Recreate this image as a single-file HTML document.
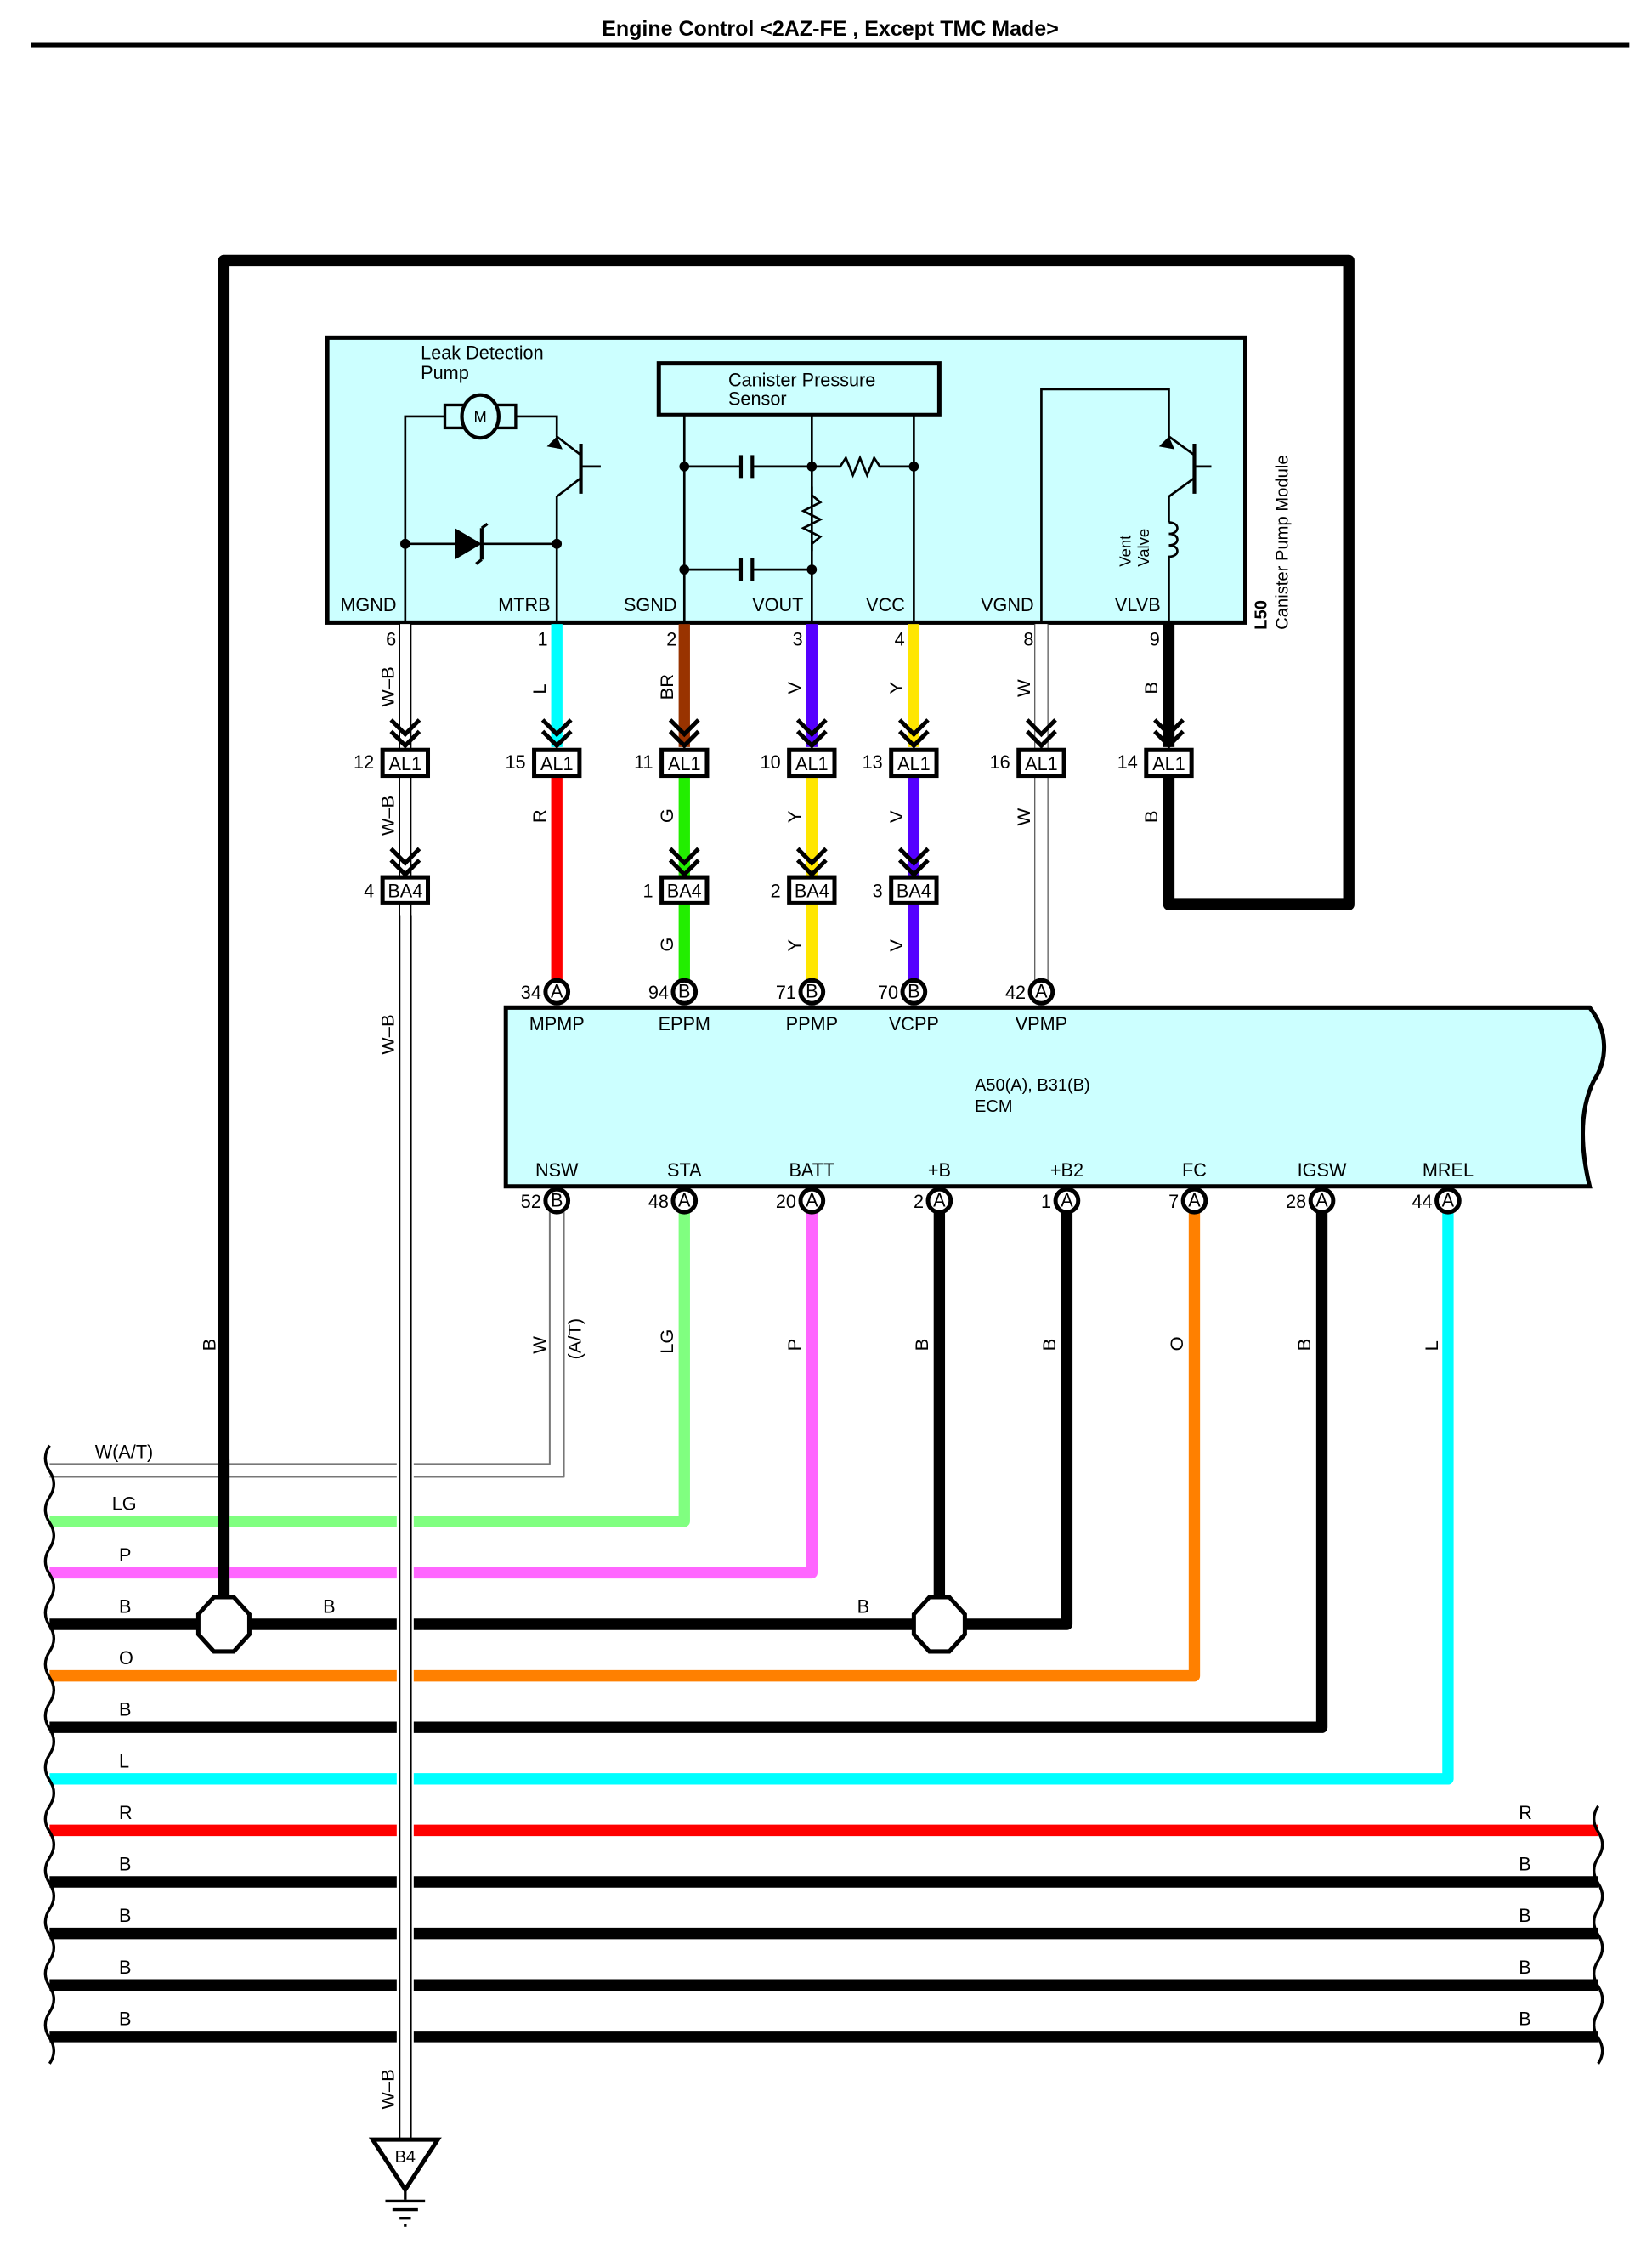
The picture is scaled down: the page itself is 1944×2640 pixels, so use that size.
<!DOCTYPE html>
<html><head><meta charset="utf-8"><style>
html,body{margin:0;padding:0;background:#fff}
svg{display:block}
text{font-family:"Liberation Sans Narrow","Liberation Sans",sans-serif;font-size:13px;fill:#000}
.n{font-size:12px}
</style></head><body>
<svg width="1944" height="2640" viewBox="0 0 1166 1568" preserveAspectRatio="none" xmlns="http://www.w3.org/2000/svg">
<text x="586" y="25" text-anchor="middle" style="font-family:'Liberation Sans',sans-serif;font-weight:bold;font-size:15px">Engine Control &lt;2AZ-FE , Except TMC Made&gt;</text>
<rect x="22" y="30" width="1128" height="3" fill="#000"/>

<!-- outer frame wire -->
<polyline points="158,1135 158,182 952,182 952,632 825,632 825,540" fill="none" stroke="#000" stroke-width="8" stroke-linejoin="round"/>

<!-- module box -->
<rect x="231" y="236" width="648" height="199" fill="#ccffff" stroke="#000" stroke-width="3"/>
<g fill="none" stroke="#000" stroke-width="1.6">
<polyline points="286,435 286,291 316,291"/>
<polyline points="362,291 393,291 393,305 410,318"/>
<polyline points="410,334 393,347 393,435"/>
<line x1="410" y1="310" x2="410" y2="345" stroke-width="2.5"/>
<line x1="410" y1="326" x2="424" y2="326"/>
<line x1="286" y1="380" x2="393" y2="380"/>
<rect x="465" y="254" width="198" height="36" stroke-width="3"/>
<line x1="483" y1="290" x2="483" y2="435"/>
<line x1="573" y1="290" x2="573" y2="435"/>
<line x1="645" y1="290" x2="645" y2="435"/>
<line x1="483" y1="326" x2="523" y2="326"/><line x1="531" y1="326" x2="573" y2="326"/>
<line x1="523" y1="318" x2="523" y2="334" stroke-width="2.5"/><line x1="531" y1="318" x2="531" y2="334" stroke-width="2.5"/>
<line x1="483" y1="398" x2="523" y2="398"/><line x1="531" y1="398" x2="573" y2="398"/>
<line x1="523" y1="390" x2="523" y2="406" stroke-width="2.5"/><line x1="531" y1="390" x2="531" y2="406" stroke-width="2.5"/>
<polyline points="573,326 593,326 597,320 602,332 607,320 612,332 617,320 621,326 645,326"/>
<polyline points="573,340 573,346 579,351 567,357 579,363 567,369 579,375 573,380 573,385"/>
<polyline points="735,435 735,272 825,272 825,305 843,318"/>
<polyline points="843,334 825,347 825,365"/>
<line x1="843" y1="310" x2="843" y2="345" stroke-width="2.5"/>
<line x1="843" y1="326" x2="855" y2="326"/>
<path d="M825,365 c8,0 8,8 0,8 c8,0 8,8 0,8 c8,0 8,8 0,8 L825,435"/>
</g>
<g fill="#000">
<circle cx="286" cy="380" r="3.5"/><circle cx="393" cy="380" r="3.5"/>
<circle cx="483" cy="326" r="3.5"/><circle cx="573" cy="326" r="3.5"/><circle cx="645" cy="326" r="3.5"/>
<circle cx="483" cy="398" r="3.5"/><circle cx="573" cy="398" r="3.5"/>
<polygon points="321,369 321,391 340,380"/>
<polygon points="393,305 386,312 397,314"/>
<polygon points="825,305 818,312 829,314"/>
</g>
<line x1="340" y1="369" x2="340" y2="391" stroke="#000" stroke-width="2.5"/>
<line x1="340" y1="369" x2="344" y2="366" stroke="#000" stroke-width="2"/>
<line x1="340" y1="391" x2="336" y2="394" stroke="#000" stroke-width="2"/>
<rect x="314" y="283" width="50" height="16" fill="#ccffff" stroke="#000" stroke-width="2"/>
<ellipse cx="339" cy="291" rx="13" ry="15" fill="#ccffff" stroke="#000" stroke-width="2.5"/>
<text x="339" y="295" text-anchor="middle" style="font-size:11px">M</text>
<text x="297" y="251">Leak Detection</text><text x="297" y="265">Pump</text>
<text x="514" y="270">Canister Pressure</text><text x="514" y="283">Sensor</text>
<text transform="translate(798,396) rotate(-90)" style="font-family:'Liberation Sans',sans-serif;font-size:11px">Vent</text>
<text transform="translate(811,396) rotate(-90)" style="font-family:'Liberation Sans',sans-serif;font-size:11px">Valve</text>
<text transform="translate(894,440) rotate(-90)" style="font-family:'Liberation Sans',sans-serif;font-size:12px;font-weight:bold">L50</text>
<text transform="translate(909,440) rotate(-90)" style="font-family:'Liberation Sans',sans-serif;font-size:12px">Canister Pump Module</text>
<g text-anchor="middle">
<text x="260" y="427">MGND</text><text x="370" y="427">MTRB</text><text x="459" y="427">SGND</text><text x="549" y="427">VOUT</text><text x="625" y="427">VCC</text><text x="711" y="427">VGND</text><text x="803" y="427">VLVB</text>
</g>
<g class="n" text-anchor="middle">
<text x="276" y="451">6</text><text x="383" y="451">1</text><text x="474" y="451">2</text><text x="563" y="451">3</text><text x="635" y="451">4</text><text x="726" y="451">8</text><text x="815" y="451">9</text>
</g>

<!-- wires module -> AL1 -->
<g fill="none" stroke-width="8">
<line x1="393" y1="436" x2="393" y2="522" stroke="#00ffff"/>
<line x1="483" y1="436" x2="483" y2="522" stroke="#993300"/>
<line x1="573" y1="436" x2="573" y2="522" stroke="#5500ff"/>
<line x1="645" y1="436" x2="645" y2="522" stroke="#ffe600"/>
<line x1="825" y1="436" x2="825" y2="522" stroke="#000"/>
<line x1="393" y1="542" x2="393" y2="685" stroke="#ff0000"/>
<line x1="483" y1="542" x2="483" y2="612" stroke="#22ee00"/>
<line x1="573" y1="542" x2="573" y2="612" stroke="#ffe600"/>
<line x1="645" y1="542" x2="645" y2="612" stroke="#5500ff"/>
<line x1="483" y1="632" x2="483" y2="685" stroke="#22ee00"/>
<line x1="573" y1="632" x2="573" y2="685" stroke="#ffe600"/>
<line x1="645" y1="632" x2="645" y2="685" stroke="#5500ff"/>
</g>
<!-- thin white double wires -->
<g fill="none">
<line x1="286" y1="436" x2="286" y2="1495" stroke="#000" stroke-width="9"/>
<line x1="286" y1="436" x2="286" y2="1495" stroke="#fff" stroke-width="7"/>
<line x1="735" y1="436" x2="735" y2="685" stroke="#555" stroke-width="10"/>
<line x1="735" y1="436" x2="735" y2="685" stroke="#fff" stroke-width="8.5"/>
</g>
<!-- chevrons -->
<g fill="none" stroke="#000" stroke-width="3">
<path d="M276,503 l10,10 l10,-10 M276,511 l10,10 l10,-10"/>
<path d="M383,503 l10,10 l10,-10 M383,511 l10,10 l10,-10"/>
<path d="M473,503 l10,10 l10,-10 M473,511 l10,10 l10,-10"/>
<path d="M563,503 l10,10 l10,-10 M563,511 l10,10 l10,-10"/>
<path d="M635,503 l10,10 l10,-10 M635,511 l10,10 l10,-10"/>
<path d="M725,503 l10,10 l10,-10 M725,511 l10,10 l10,-10"/>
<path d="M815,503 l10,10 l10,-10 M815,511 l10,10 l10,-10"/>
<path d="M276,593 l10,10 l10,-10 M276,601 l10,10 l10,-10"/>
<path d="M473,593 l10,10 l10,-10 M473,601 l10,10 l10,-10"/>
<path d="M563,593 l10,10 l10,-10 M563,601 l10,10 l10,-10"/>
<path d="M635,593 l10,10 l10,-10 M635,601 l10,10 l10,-10"/>
</g>
<!-- AL1 boxes -->
<g fill="#fff" stroke="#000" stroke-width="3">
<rect x="270" y="524" width="32" height="18"/><rect x="377" y="524" width="32" height="18"/><rect x="467" y="524" width="32" height="18"/><rect x="557" y="524" width="32" height="18"/><rect x="629" y="524" width="32" height="18"/><rect x="719" y="524" width="32" height="18"/><rect x="809" y="524" width="32" height="18"/>
<rect x="270" y="613" width="32" height="18"/><rect x="467" y="613" width="32" height="18"/><rect x="557" y="613" width="32" height="18"/><rect x="629" y="613" width="32" height="18"/>
</g>
<g text-anchor="middle">
<text x="286" y="538">AL1</text><text x="393" y="538">AL1</text><text x="483" y="538">AL1</text><text x="573" y="538">AL1</text><text x="645" y="538">AL1</text><text x="735" y="538">AL1</text><text x="825" y="538">AL1</text>
<text x="286" y="627">BA4</text><text x="483" y="627">BA4</text><text x="573" y="627">BA4</text><text x="645" y="627">BA4</text>
</g>
<g text-anchor="end">
<text x="264" y="537">12</text><text x="371" y="537">15</text><text x="461" y="537">11</text><text x="551" y="537">10</text><text x="623" y="537">13</text><text x="713" y="537">16</text><text x="803" y="537">14</text>
<text x="264" y="627">4</text><text x="461" y="627">1</text><text x="551" y="627">2</text><text x="623" y="627">3</text>
</g>
<!-- vertical wire labels -->
<g class="n">
<text transform="translate(278,494) rotate(-90)">W–B</text><text transform="translate(385,485) rotate(-90)">L</text><text transform="translate(475,489) rotate(-90)">BR</text><text transform="translate(565,485) rotate(-90)">V</text><text transform="translate(637,485) rotate(-90)">Y</text><text transform="translate(727,487) rotate(-90)">W</text><text transform="translate(817,485) rotate(-90)">B</text>
<text transform="translate(278,584) rotate(-90)">W–B</text><text transform="translate(385,575) rotate(-90)">R</text><text transform="translate(475,575) rotate(-90)">G</text><text transform="translate(565,575) rotate(-90)">Y</text><text transform="translate(637,575) rotate(-90)">V</text><text transform="translate(727,577) rotate(-90)">W</text><text transform="translate(817,575) rotate(-90)">B</text>
<text transform="translate(475,665) rotate(-90)">G</text><text transform="translate(565,665) rotate(-90)">Y</text><text transform="translate(637,665) rotate(-90)">V</text>
<text transform="translate(278,737) rotate(-90)">W–B</text>
</g>

<!-- ECM box -->
<path d="M357,704 L1122,704 C1135,720 1135,740 1125,755 C1115,775 1115,800 1122,829 L357,829 Z" fill="#ccffff" stroke="#000" stroke-width="3"/>
<text x="688" y="762" style="font-size:12px">A50(A), B31(B)</text>
<text x="688" y="777" style="font-size:12px">ECM</text>
<g text-anchor="middle">
<text x="393" y="720">MPMP</text><text x="483" y="720">EPPM</text><text x="573" y="720">PPMP</text><text x="645" y="720">VCPP</text><text x="735" y="720">VPMP</text>
<text x="393" y="822">NSW</text><text x="483" y="822">STA</text><text x="573" y="822">BATT</text><text x="663" y="822">+B</text><text x="753" y="822">+B2</text><text x="843" y="822">FC</text><text x="933" y="822">IGSW</text><text x="1022" y="822">MREL</text>
</g>

<!-- bottom wires -->
<g fill="none" stroke-linejoin="round">
<polyline points="398,847 398,1032 35,1032" stroke="#777" stroke-width="1.2"/>
<polyline points="388,847 388,1023 35,1023" stroke="#777" stroke-width="1.2"/>
<polyline points="483,847 483,1063 35,1063" stroke="#80ff80" stroke-width="8"/>
<polyline points="573,847 573,1099 35,1099" stroke="#ff66ff" stroke-width="8"/>
<polyline points="753,847 753,1135 663,1135" stroke="#000" stroke-width="8"/>
<polyline points="663,847 663,1135 35,1135" stroke="#000" stroke-width="8"/>
<polyline points="843,847 843,1171 35,1171" stroke="#ff8000" stroke-width="8"/>
<polyline points="933,847 933,1207 35,1207" stroke="#000" stroke-width="8"/>
<polyline points="1022,847 1022,1243 35,1243" stroke="#00ffff" stroke-width="8"/>
<line x1="35" y1="1279" x2="1128" y2="1279" stroke="#ff0000" stroke-width="8"/>
<line x1="35" y1="1315" x2="1128" y2="1315" stroke="#000" stroke-width="8"/>
<line x1="35" y1="1351" x2="1128" y2="1351" stroke="#000" stroke-width="8"/>
<line x1="35" y1="1387" x2="1128" y2="1387" stroke="#000" stroke-width="8"/>
<line x1="35" y1="1423" x2="1128" y2="1423" stroke="#000" stroke-width="8"/>
</g>
<!-- W-B crossing over -->
<rect x="280" y="640" width="12" height="855" fill="#fff"/>
<line x1="282" y1="640" x2="282" y2="1495" stroke="#000" stroke-width="1.3"/>
<line x1="290" y1="640" x2="290" y2="1495" stroke="#000" stroke-width="1.3"/>
<line x1="158" y1="1020" x2="158" y2="1135" stroke="#000" stroke-width="8"/>

<!-- ECM pin circles -->
<g fill="#fff" stroke="#000" stroke-width="3">
<circle cx="393" cy="693" r="8"/><circle cx="483" cy="693" r="8"/><circle cx="573" cy="693" r="8"/><circle cx="645" cy="693" r="8"/><circle cx="735" cy="693" r="8"/>
<circle cx="393" cy="839" r="8"/><circle cx="483" cy="839" r="8"/><circle cx="573" cy="839" r="8"/><circle cx="663" cy="839" r="8"/><circle cx="753" cy="839" r="8"/><circle cx="843" cy="839" r="8"/><circle cx="933" cy="839" r="8"/><circle cx="1022" cy="839" r="8"/>
</g>
<g text-anchor="middle" style="font-size:11px">
<text x="393" y="697">A</text><text x="483" y="697">B</text><text x="573" y="697">B</text><text x="645" y="697">B</text><text x="735" y="697">A</text>
<text x="393" y="843">B</text><text x="483" y="843">A</text><text x="573" y="843">A</text><text x="663" y="843">A</text><text x="753" y="843">A</text><text x="843" y="843">A</text><text x="933" y="843">A</text><text x="1022" y="843">A</text>
</g>
<g text-anchor="end">
<text x="382" y="698">34</text><text x="472" y="698">94</text><text x="562" y="698">71</text><text x="634" y="698">70</text><text x="724" y="698">42</text>
<text x="382" y="844">52</text><text x="472" y="844">48</text><text x="562" y="844">20</text><text x="652" y="844">2</text><text x="742" y="844">1</text><text x="832" y="844">7</text><text x="922" y="844">28</text><text x="1011" y="844">44</text>
</g>

<!-- splices -->
<g fill="#fff" stroke="#000" stroke-width="3">
<polygon points="151,1116 165,1116 176,1128 176,1142 165,1154 151,1154 140,1142 140,1128"/>
<polygon points="656,1116 670,1116 681,1128 681,1142 670,1154 656,1154 645,1142 645,1128"/>
</g>

<!-- vertical labels bottom -->
<g class="n">
<text transform="translate(152,944) rotate(-90)">B</text><text transform="translate(385,946) rotate(-90)">W</text><text transform="translate(410,950) rotate(-90)">(A/T)</text><text transform="translate(475,946) rotate(-90)">LG</text><text transform="translate(565,944) rotate(-90)">P</text><text transform="translate(655,944) rotate(-90)">B</text><text transform="translate(745,944) rotate(-90)">B</text><text transform="translate(835,944) rotate(-90)">O</text><text transform="translate(925,944) rotate(-90)">B</text><text transform="translate(1015,944) rotate(-90)">L</text>
<text transform="translate(278,1474) rotate(-90)">W–B</text>
</g>
<g>
<text x="67" y="1019">W(A/T)</text><text x="79" y="1055">LG</text><text x="84" y="1091">P</text><text x="84" y="1127">B</text><text x="228" y="1127">B</text><text x="605" y="1127">B</text><text x="84" y="1163">O</text><text x="84" y="1199">B</text><text x="84" y="1235">L</text>
<text x="84" y="1271">R</text><text x="84" y="1307">B</text><text x="84" y="1343">B</text><text x="84" y="1379">B</text><text x="84" y="1415">B</text>
<text x="1072" y="1271">R</text><text x="1072" y="1307">B</text><text x="1072" y="1343">B</text><text x="1072" y="1379">B</text><text x="1072" y="1415">B</text>
</g>

<!-- wavy edges -->
<g fill="none" stroke="#000" stroke-width="2">
<path d="M35,1010 q-6,9 0,18 q6,9 0,18 q-6,9 0,18 q6,9 0,18 q-6,9 0,18 q6,9 0,18 q-6,9 0,18 q6,9 0,18 q-6,9 0,18 q6,9 0,18 q-6,9 0,18 q6,9 0,18 q-6,9 0,18 q6,9 0,18 q-6,9 0,18 q6,9 0,18 q-6,9 0,18 q6,9 0,18 q-6,9 0,18 q6,9 0,18 q-6,9 0,18 q6,9 0,18 q-6,9 0,18 q6,9 0,18"/>
<path d="M1128,1262 q-6,9 0,18 q6,9 0,18 q-6,9 0,18 q6,9 0,18 q-6,9 0,18 q6,9 0,18 q-6,9 0,18 q6,9 0,18 q-6,9 0,18 q6,9 0,18"/>
</g>

<!-- ground -->
<polygon points="263,1495 309,1495 286,1530" fill="#fff" stroke="#000" stroke-width="3"/>
<text x="286" y="1511" text-anchor="middle" style="font-size:12px">B4</text>
<g stroke="#000" stroke-width="2">
<line x1="286" y1="1530" x2="286" y2="1537"/>
<line x1="272" y1="1538" x2="300" y2="1538"/>
<line x1="277" y1="1544" x2="295" y2="1544"/>
<line x1="282" y1="1550" x2="290" y2="1550"/>
<line x1="285" y1="1555" x2="287" y2="1555"/>
</g>
</svg>
</body></html>
